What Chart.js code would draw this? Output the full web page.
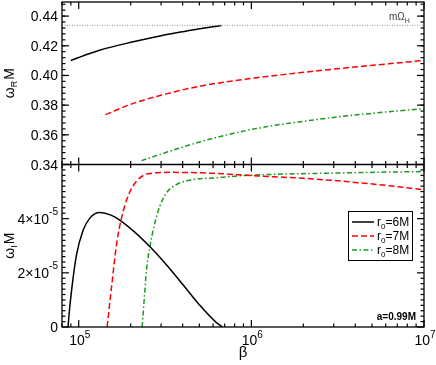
<!DOCTYPE html>
<html>
<head>
<meta charset="utf-8">
<script src="https://cdn.jsdelivr.net/npm/chart.js@4.4.1/dist/chart.umd.min.js"></script>
<style>
  html, body { margin: 0; padding: 0; background: #fff; }
  canvas { display: block; }
</style>
</head>
<body>
<canvas id="chart" width="436" height="365"></canvas>
<script>
// values, a = 0.99M

// top panel: omega_R M
const beta6R = [9.0e4, 1.0e5, 1.32e5, 2.07e5, 3.0e5, 4.0e5, 5.0e5, 6.0e5, 6.7e5];
const omegaR6 = [0.4100, 0.4121, 0.4170, 0.4227, 0.4268, 0.4295, 0.4315, 0.4328, 0.4336];
const beta7R = [1.43e5, 2.07e5, 3.22e5, 5.0e5, 1.0e6, 1.4e6, 2.0e6, 3.4e6, 5.0e6, 1.0e7];
const omegaR7 = [0.3736, 0.3812, 0.3876, 0.3927, 0.3980, 0.4001, 0.4021, 0.4049, 0.4068, 0.4101];
const beta8R = [2.31e5, 3.22e5, 4.6e5, 6.4e5, 1.0e6, 1.4e6, 2.0e6, 3.4e6, 5.0e6, 1.0e7];
const omegaR8 = [0.3426, 0.3482, 0.3539, 0.3585, 0.3636, 0.3666, 0.3691, 0.3725, 0.3745, 0.3776];
const mOmegaH = 0.4338;

// bottom panel: omega_I M
const beta6I = [8.67e4, 8.8e4, 9.07e4, 9.7e4, 1.06e5, 1.16e5, 1.32e5, 1.51e5, 1.66e5, 2.07e5, 2.58e5, 3.22e5, 4.03e5, 5.0e5, 6.28e5, 6.8e5];
const omegaI6 = [0, 0.50e-5, 1.30e-5, 2.65e-5, 3.57e-5, 4.02e-5, 4.23e-5, 4.15e-5, 4.02e-5, 3.55e-5, 2.97e-5, 2.30e-5, 1.55e-5, 0.82e-5, 0.16e-5, 0];
const beta7I = [1.46e5, 1.55e5, 1.66e5, 1.77e5, 1.93e5, 2.16e5, 2.58e5, 3.52e5, 6.28e5, 1.0e6, 2.0e6, 3.4e6, 6.0e6, 1.0e7];
const omegaI7 = [0, 1.49e-5, 3.10e-5, 4.03e-5, 4.83e-5, 5.38e-5, 5.67e-5, 5.71e-5, 5.67e-5, 5.59e-5, 5.49e-5, 5.38e-5, 5.23e-5, 5.07e-5];
const beta8I = [2.33e5, 2.40e5, 2.47e5, 2.58e5, 2.76e5, 2.95e5, 3.22e5, 3.68e5, 4.6e5, 6.28e5, 8.95e5, 3.4e6, 1.0e7];
const omegaI8 = [0, 1.1e-5, 2.11e-5, 2.95e-5, 3.84e-5, 4.46e-5, 4.95e-5, 5.26e-5, 5.44e-5, 5.51e-5, 5.59e-5, 5.69e-5, 5.74e-5];

const seriesNames = ["6M", "7M", "8M"];

// axis ticks and labels
const xMajor = [1e5, 1e6, 1e7];
const xLabels = [["10", "5"], ["10", "6"], ["10", "7"]];
const xMinor = [8e4, 9e4, 2e5, 3e5, 4e5, 5e5, 6e5, 7e5, 8e5, 9e5, 2e6, 3e6, 4e6, 5e6, 6e6, 7e6, 8e6, 9e6];
const topMajor = [0.34, 0.36, 0.38, 0.40, 0.42, 0.44];
const topLabels = ["0.34", "0.36", "0.38", "0.40", "0.42", "0.44"];
const botMajor = [0, 2e-5, 4e-5, 6e-5];
const botLabels = [["0", ""], ["2\u00d710", "-5"], ["4\u00d710", "-5"], null];

const FONT = '"Liberation Sans", Arial, sans-serif';
const colors = ["#000000", "#ff0000", "#1a9a1a"];
const dashes = [[], [6, 3], [5, 2.5, 1.5, 2.5]];

const pts = (xs, ys) => xs.map((x, i) => ({ x: x, y: ys[i] }));

function curve(xs, ys, k, axis) {
  return {
    label: "r0=" + seriesNames[k],
    data: pts(xs, ys),
    yAxisID: axis,
    borderColor: colors[k],
    borderWidth: 1.5,
    borderDash: dashes[k],
    pointRadius: 0,
    cubicInterpolationMode: "monotone",
    fill: false,
  };
}

function txt(ctx, base, exp, x, y, align, size, expSize, rise) {
  ctx.font = size + "px " + FONT;
  const wb = ctx.measureText(base).width;
  ctx.font = expSize + "px " + FONT;
  const we = exp ? ctx.measureText(exp).width : 0;
  let x0 = x;
  if (align === "right") x0 = x - wb - we;
  if (align === "center") x0 = x - (wb + we) / 2;
  ctx.textAlign = "left";
  ctx.textBaseline = "alphabetic";
  ctx.font = size + "px " + FONT;
  ctx.fillText(base, x0, y);
  if (exp) {
    ctx.font = expSize + "px " + FONT;
    ctx.fillText(exp, x0 + wb, y + rise);
  }
  return wb + we;
}

const frame = {
  id: "frame",
  afterDraw(chart) {
    const { ctx, chartArea: a } = chart;
    const { x, yTop, yBot } = chart.scales;
    const mid = yTop.bottom;
    const seg = (x1, y1, x2, y2) => {
      ctx.beginPath();
      ctx.moveTo(x1, y1);
      ctx.lineTo(x2, y2);
      ctx.stroke();
    };
    ctx.save();
    ctx.setLineDash([]);
    ctx.strokeStyle = "#000";
    ctx.fillStyle = "#000";
    ctx.lineWidth = 1.2;

    // x ticks, on every horizontal edge, pointing inwards
    const xt = (v, len) => {
      const px = x.getPixelForValue(v);
      seg(px, a.bottom, px, a.bottom - len);
      seg(px, mid - len, px, mid + len);
      seg(px, a.top, px, a.top + len);
    };
    xMajor.forEach((v) => xt(v, 7));
    xMinor.forEach((v) => xt(v, 3.5));

    // y ticks, left and right
    const yt = (scale, v, len) => {
      const py = scale.getPixelForValue(v);
      seg(a.left, py, a.left + len, py);
      seg(a.right, py, a.right - len, py);
    };
    topMajor.forEach((v) => yt(yTop, v, 7));
    for (let v = 0.344; v < 0.449; v += 0.004) yt(yTop, v, 3.5);
    botMajor.forEach((v) => yt(yBot, v, 7));
    for (let i = 1; i < 30; i++) if (i % 10) yt(yBot, i * 2e-6, 3.5);

    ctx.lineWidth = 1.3;
    ctx.strokeRect(a.left, a.top, a.right - a.left, a.bottom - a.top);
    seg(a.left, mid, a.right, mid);

    // tick labels
    topMajor.forEach((v, i) => txt(ctx, topLabels[i], "", 58, yTop.getPixelForValue(v) + 5, "right", 14, 10, 0));
    botMajor.forEach((v, i) => {
      if (botLabels[i]) txt(ctx, botLabels[i][0], botLabels[i][1], 58, yBot.getPixelForValue(v) + 5, "right", 14, 10, -8.5);
    });
    xMajor.forEach((v, i) => txt(ctx, xLabels[i][0], xLabels[i][1], x.getPixelForValue(v) + 1, 345, "center", 14, 10, -7.5));

    // axis titles
    ctx.font = "15px " + FONT;
    ctx.textAlign = "center";
    ctx.fillText("\u03b2", (a.left + a.right) / 2, 357);
    const ytitle = (sub, cy) => {
      ctx.save();
      ctx.translate(13.5, cy);
      ctx.rotate(-Math.PI / 2);
      ctx.font = "14px " + FONT;
      const w1 = ctx.measureText("\u03c9").width;
      const w3 = ctx.measureText("M").width;
      ctx.font = "9px " + FONT;
      const w2 = ctx.measureText(sub).width;
      const x0 = -(w1 + w2 + w3 + 1) / 2;
      ctx.textAlign = "left";
      ctx.font = "14px " + FONT;
      ctx.fillText("\u03c9", x0, 0);
      ctx.font = "9px " + FONT;
      ctx.fillText(sub, x0 + w1, 3);
      ctx.font = "14px " + FONT;
      ctx.fillText("M", x0 + w1 + w2 + 1, 0);
      ctx.restore();
    };
    ytitle("R", (a.top + mid) / 2);
    ytitle("I", (mid + a.bottom) / 2);

    // threshold label
    ctx.fillStyle = "#444";
    const wm = txt(ctx, "m\u03a9", "", 389, 19.5, "left", 10, 7, 0);
    ctx.font = "7px " + FONT;
    ctx.fillText("H", 389 + wm, 23);
    ctx.fillStyle = "#000";

    // spin label
    ctx.font = "bold 10px " + FONT;
    ctx.textAlign = "right";
    ctx.fillText("a=0.99M", 416, 319.5);

    // legend
    ctx.lineWidth = 1;
    ctx.strokeRect(348.5, 211.5, 64, 49);
    seriesNames.forEach((name, k) => {
      const ly = 222 + k * 14;
      ctx.save();
      ctx.strokeStyle = colors[k];
      ctx.lineWidth = 1.5;
      ctx.setLineDash(dashes[k]);
      seg(352, ly, 374, ly);
      ctx.restore();
      ctx.fillStyle = "#000";
      ctx.textAlign = "left";
      ctx.font = "12px " + FONT;
      ctx.fillText("r", 377, ly + 4);
      const wr = ctx.measureText("r").width;
      ctx.font = "8px " + FONT;
      ctx.fillText("0", 377 + wr, ly + 7);
      const w0 = ctx.measureText("0").width;
      ctx.font = "12px " + FONT;
      ctx.fillText("=" + name, 377 + wr + w0, ly + 4);
    });
    ctx.restore();
  },
};

const hidden = {
  ticks: { display: false },
  grid: { display: false, drawTicks: false },
  border: { display: false },
};

new Chart(document.getElementById("chart"), {
  type: "line",
  data: {
    datasets: [
      {
        label: "mOmegaH",
        data: pts([8e4, 1e7], [mOmegaH, mOmegaH]),
        yAxisID: "yTop",
        borderColor: "#8a8a8a",
        borderWidth: 1,
        borderDash: [1, 1.5],
        pointRadius: 0,
      },
      curve(beta6R, omegaR6, 0, "yTop"),
      curve(beta7R, omegaR7, 1, "yTop"),
      curve(beta8R, omegaR8, 2, "yTop"),
      curve(beta6I, omegaI6, 0, "yBot"),
      curve(beta7I, omegaI7, 1, "yBot"),
      curve(beta8I, omegaI8, 2, "yBot"),
    ],
  },
  options: {
    responsive: false,
    animation: false,
    devicePixelRatio: 1,
    layout: { padding: { left: 62, right: 12, top: 2, bottom: 38 } },
    plugins: { legend: { display: false }, tooltip: { enabled: false } },
    scales: {
      x: { type: "logarithmic", min: 8e4, max: 1e7, ...hidden },
      yTop: { type: "linear", position: "left", stack: "panels", stackWeight: 1, weight: 2, min: 0.34, max: 0.4495, ...hidden },
      yBot: { type: "linear", position: "left", stack: "panels", stackWeight: 1, weight: 1, min: 0, max: 6e-5, ...hidden },
    },
  },
  plugins: [frame],
});
</script>
</body>
</html>
